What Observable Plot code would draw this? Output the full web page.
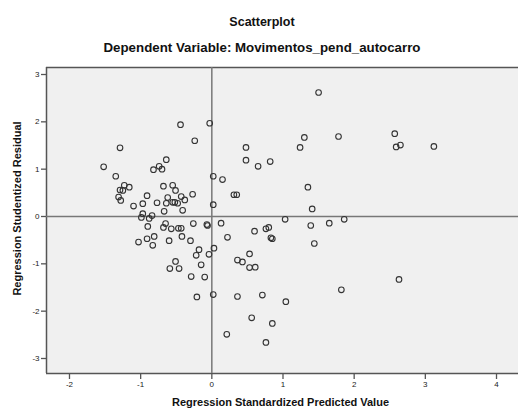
<!DOCTYPE html>
<html>
<head>
<meta charset="utf-8">
<script src="https://cdn.jsdelivr.net/npm/d3@7"></script>
<script src="https://cdn.jsdelivr.net/npm/@observablehq/plot@0.6"></script>
<style>
  html, body { margin: 0; padding: 0; background: #fff; }
  #wrap { position: relative; width: 518px; height: 411px; font-family: "Liberation Sans", Arial, sans-serif; }
  .t { position: absolute; left: 0; width: 524px; text-align: center; font-weight: bold; color: #111; }
  #t1 { top: 15px; font-size: 12.5px; }
  #t2 { top: 40px; font-size: 13.3px; }
  #chart { position: absolute; left: 0; top: 60px; }
</style>
</head>
<body>
<div id="wrap">
  <div class="t" id="t1">Scatterplot</div>
  <div class="t" id="t2">Dependent Variable: Movimentos_pend_autocarro</div>
  <div id="chart"></div>
</div>
<script>
const title = "Scatterplot";
const subtitle = "Dependent Variable: Movimentos_pend_autocarro";
const xLabel = "Regression Standardized Predicted Value";
const yLabel = "Regression Studentized Residual";
const xTicks = [-2, -1, 0, 1, 2, 3, 4];
const yTicks = [-3, -2, -1, 0, 1, 2, 3];
const xDomain = [-2.323, 4.309];
const yDomain = [-3.317, 3.148];

const predicted = [
  -0.44, -0.03, -0.24, -1.29, -1.52, -0.64, -0.82, -0.74, -0.70, -1.35,
   0.02, -1.23, -1.16, -1.29, -1.25, -1.31, -1.28, -0.68, -0.55, -0.51,
  -0.91, -0.27, -0.43, -0.38, -0.62, -0.77, -0.64, -0.55, -0.52, -0.48,
  -1.10, -0.97, -0.67, -0.41,  0.02, -0.97, -0.84, -0.99, -0.88, -0.90,
  -0.65, -0.68, -0.57, -0.47, -0.43, -0.26, -0.07, -0.06, -0.81, -0.91,
  -1.03, -0.83, -0.60, -0.42, -0.30, -0.18, -0.22, -0.04,  0.03, -0.51,
  -0.59, -0.46, -0.15, -0.29, -0.10, -0.21,  0.02,  1.50,  0.48,  0.48,
   0.65,  0.82,  1.24,  1.30,  1.78,  0.15,  0.31,  0.35,  1.35,  1.41,
   1.03,  1.86,  0.13,  1.39,  1.65,  0.60,  0.76,  0.80,  0.22,  0.83,
   0.85,  1.44,  0.53,  0.36,  0.43,  0.53,  0.61,  0.36,  0.71,  1.04,
   1.82,  0.56,  0.85,  0.21,  0.76,  2.57,  2.59,  2.65,  3.12,  2.63
];
const residual = [
   1.94,  1.97,  1.60,  1.45,  1.05,  1.20,  0.99,  1.06,  1.00,  0.85,
   0.85,  0.66,  0.62,  0.56,  0.55,  0.41,  0.34,  0.64,  0.66,  0.55,
   0.44,  0.47,  0.42,  0.35,  0.40,  0.29,  0.28,  0.30,  0.30,  0.28,
   0.22,  0.27,  0.11,  0.13,  0.25,  0.06,  0.02, -0.02, -0.04, -0.21,
  -0.15, -0.23, -0.26, -0.25, -0.25, -0.15, -0.17, -0.19, -0.42, -0.47,
  -0.54, -0.61, -0.51, -0.42, -0.51, -0.70, -0.82, -0.80, -0.67, -0.95,
  -1.10, -1.10, -1.02, -1.27, -1.28, -1.70, -1.65,  2.62,  1.46,  1.19,
   1.06,  1.16,  1.46,  1.67,  1.69,  0.78,  0.46,  0.46,  0.62,  0.16,
  -0.06, -0.06, -0.14, -0.19, -0.14, -0.31, -0.26, -0.23, -0.44, -0.45,
  -0.47, -0.57, -0.79, -0.92, -0.96, -1.08, -1.07, -1.69, -1.66, -1.80,
  -1.55, -2.14, -2.26, -2.49, -2.66,  1.75,  1.47,  1.51,  1.48, -1.33
];

const points = predicted.map((x, i) => ({x, y: residual[i]}));
const fmt = d => String(d);

const chart = Plot.plot({
  width: 518,
  height: 351,
  marginTop: 7,
  marginBottom: 38,
  marginLeft: 46,
  marginRight: 0,
  style: {fontFamily: "'Liberation Sans', Arial, sans-serif", background: "#fff", color: "#222"},
  x: {domain: xDomain},
  y: {domain: yDomain},
  marks: [
    Plot.frame({fill: "#f0f0f0", stroke: "none"}),
    Plot.ruleY([yDomain[1]], {stroke: "#555", strokeWidth: 1.5}),
    Plot.ruleY([yDomain[0]], {stroke: "#555", strokeWidth: 1.5}),
    Plot.ruleX([xDomain[0]], {stroke: "#555", strokeWidth: 1.5}),
    Plot.ruleX([0], {stroke: "#777", strokeWidth: 1.5}),
    Plot.ruleY([0], {stroke: "#777", strokeWidth: 1.5}),
    Plot.axisX({ticks: xTicks, tickFormat: fmt, tickSize: 6, tickPadding: 2, fontSize: 8, label: null, stroke: "#555", strokeWidth: 1.3}),
    Plot.axisY({ticks: yTicks, tickFormat: fmt, tickSize: 5, tickPadding: 2, fontSize: 8, label: null, stroke: "#555", strokeWidth: 1.3}),
    Plot.dot(points, {x: "x", y: "y", r: 2.8, stroke: "#333", strokeWidth: 1.1, fill: "none"}),
    Plot.text([xLabel], {text: d => d, frameAnchor: "bottom", dy: 32, dx: -2, fontSize: 11, fontWeight: "bold", fill: "#111"}),
    Plot.text([yLabel], {text: d => d, frameAnchor: "left", textAnchor: "middle", rotate: -90, dx: -29, dy: -12, fontSize: 11, fontWeight: "bold", fill: "#111"})
  ]
});
document.getElementById("chart").appendChild(chart);
</script>
</body>
</html>
